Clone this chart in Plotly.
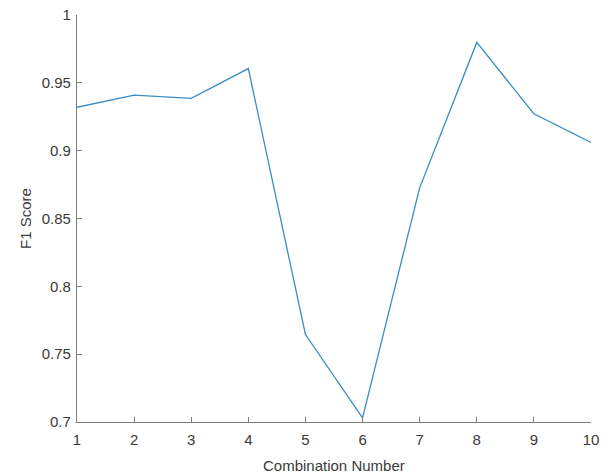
import plotly.graph_objects as go

combination = [1, 2, 3, 4, 5, 6, 7, 8, 9, 10]
f1_score = [0.932, 0.941, 0.9385, 0.9605, 0.7645, 0.703, 0.8726, 0.9798, 0.9272, 0.906]

y_ticks = [0.7, 0.75, 0.8, 0.85, 0.9, 0.95, 1.0]
y_tick_text = ["0.7", "0.75", "0.8", "0.85", "0.9", "0.95", "1"]

axis_color = "#7f7f7f"
font = dict(family="Liberation Sans, Arial, sans-serif", size=15, color="#3a3a3a")

fig = go.Figure(go.Scatter(
    x=combination, y=f1_score, mode="lines",
    line=dict(color="#3b8cc6", width=1.3),
))

fig.update_layout(
    width=611, height=474,
    margin=dict(l=77, r=20, t=15, b=52, autoexpand=False),
    paper_bgcolor="white", plot_bgcolor="white",
    showlegend=False,
    font=font,
    xaxis=dict(
        range=[1, 10], tickvals=combination, ticks="inside", ticklen=5,
        tickcolor=axis_color, showline=True, linecolor=axis_color, linewidth=1.3,
        showgrid=False, zeroline=False, ticklabelstandoff=4, automargin=False,
    ),
    yaxis=dict(
        range=[0.7, 1.0], tickvals=y_ticks, ticktext=y_tick_text,
        ticks="inside", ticklen=5,
        tickcolor=axis_color, showline=True, linecolor=axis_color, linewidth=1.3,
        showgrid=False, zeroline=False, ticklabelstandoff=2, automargin=False,
    ),
    annotations=[
        dict(text="Combination Number", xref="paper", yref="paper", x=0.5, y=0,
             xanchor="center", yanchor="top", yshift=-33, showarrow=False, font=font),
        dict(text="F1 Score", xref="paper", yref="paper", x=0, y=0.5,
             xanchor="right", yanchor="middle", xshift=-41, textangle=-90,
             showarrow=False, font=font),
    ],
)

fig.write_html("out.html")
